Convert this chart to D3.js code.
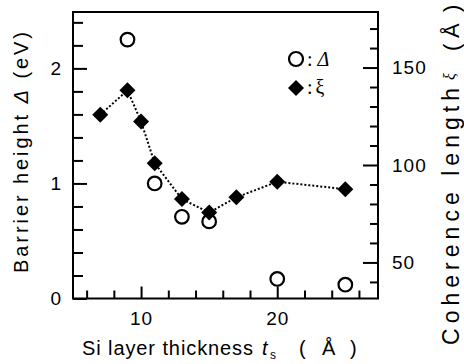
<!DOCTYPE html>
<html lang="en">
<head>
<meta charset="UTF-8" />
<title>Barrier height and coherence length vs Si layer thickness</title>
<script src="https://d3js.org/d3.v7.min.js"></script>
<style>
body { margin: 0; background: #fff; }
svg { display: block; font-family: "Liberation Sans", Arial, sans-serif; }
.tick line { stroke: #000; stroke-width: 2; }
.tick text { font-size: 19px; fill: #000; letter-spacing: 1px; }
</style>
</head>
<body>
<svg width="464" height="364"></svg>
<script>
// data
const xiThickness = [7, 9, 10, 11, 13, 15, 17, 20, 25];
const xiValues = [125.8, 138.3, 122.3, 100.9, 82.5, 75.6, 83.4, 91.4, 87.6];
const deltaThickness = [9, 11, 13, 15, 20, 25];
const deltaValues = [2.25, 1.0, 0.71, 0.67, 0.17, 0.12];

const xMajor = [10, 20];
const xMinor = [6, 8, 12, 14, 16, 18, 22, 24, 26];
const leftMajor = [0, 1, 2];
const leftMinor = [0.2, 0.4, 0.6, 0.8, 1.2, 1.4, 1.6, 1.8, 2.2, 2.4];
const rightMajor = [50, 100, 150];
const rightMinor = [40, 60, 70, 80, 90, 110, 120, 130, 140, 160, 170];

const plotL = 73, plotR = 378, plotT = 12, plotB = 298.5;

const x = d3.scaleLinear().domain([5, 27.4]).range([plotL, plotR]);
const yL = d3.scaleLinear().domain([0, 2.49]).range([plotB, plotT]);
const yR = d3.scaleLinear().domain([31.5, 178.5]).range([plotB, plotT]);

const svg = d3.select("svg");
const noDomain = g => g.select(".domain").remove();

// bottom axis
svg.append("g").attr("transform", `translate(0,${plotB})`)
	.call(d3.axisBottom(x).tickValues(xMinor).tickSize(-8).tickFormat(""))
	.call(noDomain);
svg.append("g").attr("transform", `translate(0,${plotB})`)
	.call(d3.axisBottom(x).tickValues(xMajor).tickSize(-12).tickPadding(13))
	.call(noDomain);

// left axis
svg.append("g").attr("transform", `translate(${plotL},0)`)
	.call(d3.axisLeft(yL).tickValues(leftMinor).tickSize(-10).tickFormat(""))
	.call(noDomain);
svg.append("g").attr("transform", `translate(${plotL},0)`)
	.call(d3.axisLeft(yL).tickValues(leftMajor).tickSize(-14).tickPadding(11).tickFormat(d3.format("d")))
	.call(noDomain);

// right axis
svg.append("g").attr("transform", `translate(${plotR},0)`)
	.call(d3.axisRight(yR).tickValues(rightMinor).tickSize(-8).tickFormat(""))
	.call(noDomain);
svg.append("g").attr("transform", `translate(${plotR},0)`)
	.call(d3.axisRight(yR).tickValues(rightMajor).tickSize(-15).tickPadding(14))
	.call(noDomain);

// frame
svg.append("rect")
	.attr("x", plotL).attr("y", plotT)
	.attr("width", plotR - plotL).attr("height", plotB - plotT)
	.attr("fill", "none").attr("stroke", "#000").attr("stroke-width", 2);

// open circles: barrier height
svg.append("g").selectAll("circle")
	.data(deltaThickness)
	.join("circle")
	.attr("cx", d => x(d))
	.attr("cy", (d, i) => yL(deltaValues[i]))
	.attr("r", 6.8)
	.attr("fill", "#fff")
	.attr("stroke", "#000")
	.attr("stroke-width", 2.2);

// dotted line: coherence length
const line = d3.line()
	.x(d => x(d))
	.y((d, i) => yR(xiValues[i]));
svg.append("path")
	.attr("d", line(xiThickness))
	.attr("fill", "none")
	.attr("stroke", "#000")
	.attr("stroke-width", 2)
	.attr("stroke-dasharray", "2,2");

const diamond = "M0,-8L8,0L0,8L-8,0Z";
svg.append("g").selectAll("path")
	.data(xiThickness)
	.join("path")
	.attr("d", diamond)
	.attr("transform", (d, i) => `translate(${x(d)},${yR(xiValues[i])})`)
	.attr("fill", "#000");

// legend
svg.append("circle").attr("cx", 296).attr("cy", 59).attr("r", 7)
	.attr("fill", "#fff").attr("stroke", "#000").attr("stroke-width", 2.2);
svg.append("path").attr("d", diamond).attr("transform", "translate(296,88)");
const leg1 = svg.append("text").attr("x", 307).attr("y", 66)
	.style("font-family", "'Liberation Serif', 'Times New Roman', serif").style("font-size", "20px");
leg1.append("tspan").text(":");
leg1.append("tspan").attr("dx", 5).style("font-style", "italic").text("Δ");
const leg2 = svg.append("text").attr("x", 307).attr("y", 94)
	.style("font-family", "'Liberation Serif', 'Times New Roman', serif").style("font-size", "20px");
leg2.append("tspan").text(":");
leg2.append("tspan").attr("dx", 3).text("ξ");

// left label
const ll = svg.append("text")
	.attr("transform", "translate(28,273) rotate(-90)")
	.attr("textLength", 241).attr("lengthAdjust", "spacing")
	.style("font-size", "20px");
ll.append("tspan").text("Barrier height ");
ll.append("tspan").style("font-style", "italic").text("Δ");
ll.append("tspan").text(" (eV)");

// bottom label
svg.append("text").attr("x", 82).attr("y", 355)
	.attr("textLength", 171).attr("lengthAdjust", "spacing")
	.style("font-size", "20px").text("Si layer thickness");
svg.append("text").attr("x", 262).attr("y", 355)
	.style("font-size", "20px").style("font-style", "italic").text("t");
svg.append("text").attr("x", 270).attr("y", 359)
	.style("font-size", "12px").text("s");
svg.append("text").attr("x", 299).attr("y", 355).style("font-size", "20px").text("(");
svg.append("text").attr("x", 322).attr("y", 355).style("font-size", "20px").text("Å");
svg.append("text").attr("x", 350).attr("y", 355).style("font-size", "20px").text(")");

// right label
svg.append("text")
	.attr("transform", "translate(459,345) rotate(-90)")
	.attr("textLength", 257).attr("lengthAdjust", "spacing")
	.style("font-size", "23px").text("Coherence length");
svg.append("text")
	.attr("transform", "translate(455,80) rotate(-90)")
	.style("font-family", "'Liberation Serif', 'Times New Roman', serif")
	.style("font-size", "16px").style("font-style", "italic").text("ξ");
svg.append("text").attr("transform", "translate(459,51) rotate(-90)").style("font-size", "22px").text("(");
svg.append("text").attr("transform", "translate(459,38) rotate(-90)").style("font-size", "22px").text("Å");
svg.append("text").attr("transform", "translate(459,12) rotate(-90)").style("font-size", "22px").text(")");
</script>
</body>
</html>
